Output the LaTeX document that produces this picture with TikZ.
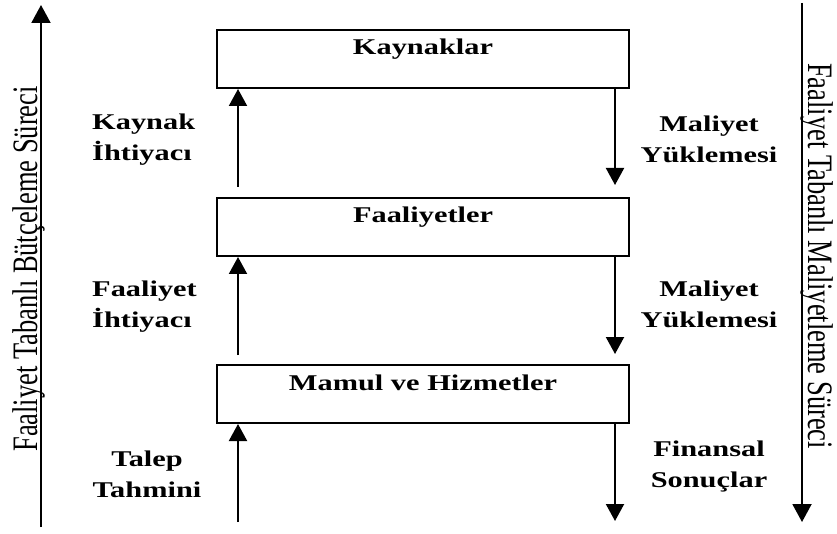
\documentclass[tikz,border=0pt]{standalone}
\usepackage{fontspec}
\setmainfont{Liberation Serif}
\usetikzlibrary{arrows.meta}
\newcommand{\wide}[1]{\scalebox{1.35}[1]{#1}}
\newcommand{\lblc}[1]{\scalebox{1.35}[1]{\begin{tabular}[t]{@{}c@{}}#1\end{tabular}}}
\newcommand{\lbll}[1]{\scalebox{1.35}[1]{\begin{tabular}[t]{@{}l@{}}#1\end{tabular}}}
\newcommand{\tall}[1]{\scalebox{1}[1.35]{#1}}
\begin{document}
\begin{tikzpicture}[x=1pt,y=-1pt,
  boxnode/.style={draw,line width=2pt,inner sep=0pt,minimum width=412pt,
    text height=25pt,text depth=33pt,font=\fontsize{22.5}{31}\selectfont\bfseries},
  lbl/.style={inner sep=0pt,font=\fontsize{22.5}{31}\selectfont\bfseries},
  side/.style={inner sep=0pt,font=\fontsize{26.5}{32}\selectfont},
  arr/.style={line width=2pt,-{Triangle[width=18pt,length=17pt]}},
  bigarr/.style={line width=2pt,-{Triangle[width=19pt,length=18pt]}}]
\useasboundingbox (0,0) rectangle (837,534);
% boxes
\node[boxnode,anchor=base] (k) at (423,55) {\wide{Kaynaklar}};
\node[boxnode,anchor=base] (f) at (423,223) {\wide{Faaliyetler}};
\node[boxnode,anchor=base] (m) at (423,390) {\wide{Mamul ve Hizmetler}};
% up arrows
\coordinate (u1) at (238,187);
\coordinate (u2) at (238,355);
\coordinate (u3) at (238,522);
\draw[arr] (u1) -- (u1 |- k.south);
\draw[arr] (u2) -- (u2 |- f.south);
\draw[arr] (u3) -- (u3 |- m.south);
% down arrows
\coordinate (d1) at (615,185);
\coordinate (d2) at (615,354);
\coordinate (d3) at (615,521);
\draw[arr] (d1 |- k.south) -- (d1);
\draw[arr] (d2 |- f.south) -- (d2);
\draw[arr] (d3 |- m.south) -- (d3);
% side arrows
\coordinate (lb) at (41,527);
\coordinate (lt) at (41,5);
\coordinate (rt) at (802,3);
\coordinate (rb) at (802,522);
\draw[bigarr] (lb) -- (lt);
\draw[bigarr] (rt) -- (rb);
% side texts
\node[side,rotate=90,anchor=base] (lside) at (37,269) {\tall{Faaliyet Tabanlı Bütçeleme Süreci}};
\node[side,rotate=-90,anchor=base] (rside) at (808,256) {\tall{Faaliyet Tabanlı Maliyetleme Süreci}};
% left labels
\node[lbl,anchor=base west] (l1) at (92,130) {\lbll{Kaynak\\İhtiyacı}};
\node[lbl,anchor=base west] (l2) at (92,297) {\lbll{Faaliyet\\İhtiyacı}};
\node[lbl,anchor=base] (l3) at (147,466) {\lblc{Talep\\Tahmini}};
% right labels
\node[lbl,anchor=base] (r1) at (709,132) {\lblc{Maliyet\\Yüklemesi}};
\node[lbl,anchor=base] (r2) at (709,297) {\lblc{Maliyet\\Yüklemesi}};
\node[lbl,anchor=base] (r3) at (709,456) {\lblc{Finansal\\Sonuçlar}};
\end{tikzpicture}
\end{document}
